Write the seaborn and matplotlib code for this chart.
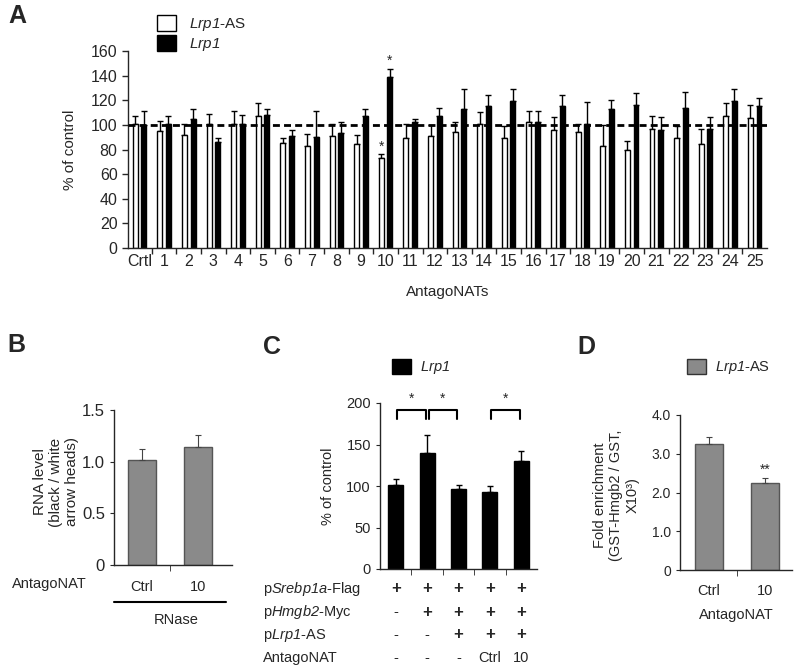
import numpy as np
import pandas as pd
import matplotlib
matplotlib.use("Agg")
import matplotlib.pyplot as plt
import seaborn as sns
from matplotlib.patches import Patch
from matplotlib.transforms import blended_transform_factory

W, H = 800, 672

# ---- panel A: antagoNAT screen ----
antagonats = ["Crtl", "1", "2", "3", "4", "5", "6", "7", "8", "9", "10", "11", "12",
              "13", "14", "15", "16", "17", "18", "19", "20", "21", "22", "23", "24", "25"]
lrp1_as = [101, 95, 92, 101, 101, 107, 85, 83, 91, 84.5, 73, 89, 91,
           94, 101, 89.5, 102, 96, 94, 83, 80, 97, 89, 84.5, 107, 105.5]
lrp1_as_err = [6, 8.5, 9, 8, 10, 10.5, 4.5, 9.5, 10, 7.5, 3, 11.5, 9,
               8.5, 9.5, 9.5, 9, 10.5, 6.5, 17, 7, 10, 10, 12.5, 10.5, 11]
lrp1 = [100, 100.5, 105, 86, 101, 108, 91, 90, 93.5, 107, 138.5, 102.5, 107,
        112.5, 115.5, 119, 102, 115.5, 100.5, 113, 116.5, 96, 114, 96.5, 119.5, 115]
lrp1_err = [11, 6.5, 8, 3, 7, 5, 5, 21.5, 8.5, 5.5, 6.5, 2.5, 7,
            17, 9, 10, 9, 8.5, 18, 7.5, 9, 10, 13, 9.5, 9.5, 7]

# ---- panel B: RNase ----
b_groups = ["Ctrl", "10"]
b_level = [1.02, 1.145]
b_err = [0.105, 0.11]

# ---- panel C: luciferase / Lrp1 ----
c_groups = ["c1", "c2", "c3", "c4", "c5"]
c_vals = [101, 140, 96, 92.5, 130]
c_err = [7, 21, 5, 7.5, 12]
c_row_labels = ["p$\\mathbf{Srebp1a}$-Flag", "p$\\mathbf{Hmgb2}$-Myc", "p$\\mathbf{Lrp1}$-AS", "AntagoNAT"]
c_rows = [["+", "+", "+", "+", "+"],
          ["-", "+", "+", "+", "+"],
          ["-", "-", "+", "+", "+"],
          ["-", "-", "-", "Ctrl", "10"]]
c_pairs = [(0, 1), (1, 2), (3, 4)]

# ---- panel D: pulldown ----
d_groups = ["Ctrl", "10"]
d_vals = [3.24, 2.24]
d_err = [0.18, 0.13]

sns.set_style("ticks")
plt.rcParams["font.family"] = ["Liberation Sans", "DejaVu Sans"]
# italic gene names: mathtext 'it' keeps digits upright, so borrow 'bf' for italics
plt.rcParams["mathtext.fontset"] = "custom"
plt.rcParams["mathtext.rm"] = "Liberation Sans"
plt.rcParams["mathtext.bf"] = "Liberation Sans:italic"
plt.rcParams["axes.linewidth"] = 1.0
plt.rcParams["xtick.major.size"] = 3
plt.rcParams["ytick.major.size"] = 3

GREY = "#8a8a8a"


def fig_xy(x, y):
    return x / W, 1 - y / H


def add_axes_px(fig, left, top, right, bottom):
    return fig.add_axes([left / W, 1 - bottom / H, (right - left) / W, (bottom - top) / H])


def upper_errorbars(ax, container, err, lw=1.0, cap=2.5, color="black"):
    xs = [p.get_x() + p.get_width() / 2 for p in container.patches]
    ys = [p.get_height() for p in container.patches]
    ax.errorbar(xs, ys, yerr=[np.zeros(len(err)), err], fmt="none",
                ecolor=color, elinewidth=lw, capsize=cap, capthick=lw, zorder=1)
    return xs, ys


fig = plt.figure(figsize=(W / 100, H / 100), dpi=100)

# ================= A =================
axA = add_axes_px(fig, 128, 51, 767, 248)
df_a = pd.DataFrame({
    "antagonat": antagonats * 2,
    "value": lrp1_as + lrp1,
    "transcript": ["Lrp1-AS"] * len(antagonats) + ["Lrp1"] * len(antagonats),
})
sns.barplot(data=df_a, x="antagonat", y="value", hue="transcript",
            palette={"Lrp1-AS": "white", "Lrp1": "black"}, edgecolor="black",
            linewidth=1, width=0.7, gap=0.43, errorbar=None, legend=False, ax=axA, zorder=2)
for cont, err in zip(axA.containers, [lrp1_as_err, lrp1_err]):
    for p in cont.patches:
        p.set_zorder(2)
    upper_errorbars(axA, cont, err, lw=1.0, cap=2.2)
axA.axhline(100, color="black", lw=2, ls=(0, (2.5, 1.5)), zorder=3)
axA.set_xlim(-0.47, 25.5)
axA.set_ylim(0, 160)
axA.set_yticks(np.arange(0, 161, 20))
axA.set_xticks(np.arange(len(antagonats)))
axA.set_xticklabels(antagonats, fontsize=11.5)
axA.tick_params(axis="x", which="major", length=0, pad=4)
axA.set_xticks(np.arange(0.5, 25, 1), minor=True)
axA.tick_params(axis="x", which="minor", length=4, width=1)
axA.tick_params(axis="y", labelsize=11.5, length=4, width=1)
axA.set_xlabel("AntagoNATs", fontsize=11, labelpad=12)
axA.set_ylabel("% of control", fontsize=11, labelpad=10)
sns.despine(ax=axA)
# significance stars at antagoNAT 10
i10 = antagonats.index("10")
axA.text(i10 - 0.175, lrp1_as[i10] + lrp1_as_err[i10] + 6, "*", ha="center", va="center", fontsize=10)
axA.text(i10 + 0.175, lrp1[i10] + lrp1_err[i10] + 7, "*", ha="center", va="center", fontsize=10)
handles = [Patch(facecolor="white", edgecolor="black", lw=1),
           Patch(facecolor="black", edgecolor="black", lw=1)]
fig.legend(handles, [r"$\mathbf{Lrp1}$-AS", r"$\mathbf{Lrp1}$"], loc="upper left",
           bbox_to_anchor=fig_xy(157, 15), frameon=False, fontsize=11,
           handlelength=1.25, handleheight=1.2, handletextpad=0.85,
           labelspacing=0.15, borderpad=0, borderaxespad=0)

# ================= B =================
axB = add_axes_px(fig, 114, 410, 232, 565)
sns.barplot(x=b_groups, y=b_level, color=GREY, edgecolor="#555555", linewidth=1,
            width=0.5, errorbar=None, ax=axB)
upper_errorbars(axB, axB.containers[0], b_err, lw=0.8, cap=2, color="#444444")
axB.set_xlim(-0.5, 1.6)
axB.set_ylim(0, 1.5)
axB.set_yticks([0, 0.5, 1.0, 1.5])
axB.set_yticklabels(["0", "0.5", "1.0", "1.5"])
axB.tick_params(axis="y", labelsize=12, length=3)
axB.set_xticks([0, 1])
axB.set_xticklabels(b_groups, fontsize=10.5)
axB.tick_params(axis="x", which="major", length=0, pad=11)
axB.set_xticks([0.5], minor=True)
axB.tick_params(axis="x", which="minor", length=4)
sns.despine(ax=axB)
fig.text(*fig_xy(56, 482), "RNA level\n(black / white\narrow heads)", rotation=90,
         ha="center", va="center", multialignment="center", fontsize=11)
fig.text(*fig_xy(12, 584), "AntagoNAT", ha="left", va="center", fontsize=10.5)
fig.add_artist(plt.Line2D([114 / W, 226 / W], [1 - 602 / H] * 2, color="black", lw=1.5))
fig.text(*fig_xy(176, 620), "RNase", ha="center", va="center", fontsize=10.5)

# ================= C =================
axC = add_axes_px(fig, 380, 403, 537, 569)
sns.barplot(x=c_groups, y=c_vals, color="black", edgecolor="black", linewidth=1,
            width=0.48, errorbar=None, ax=axC)
upper_errorbars(axC, axC.containers[0], c_err, lw=1.0, cap=2.5)
axC.set_xlim(-0.5, 4.5)
axC.set_ylim(0, 200)
axC.set_yticks(np.arange(0, 201, 50))
axC.tick_params(axis="y", labelsize=10.5, length=3)
axC.set_xticks([])
axC.set_xticks(np.arange(0.5, 4, 1), minor=True)
axC.tick_params(axis="x", which="minor", length=4)
axC.set_ylabel("% of control", fontsize=10.5, labelpad=8)
sns.despine(ax=axC)
for a, b in c_pairs:
    x0, x1 = a + 0.05, b - 0.05
    axC.plot([x0, x0, x1, x1], [181, 192, 192, 181], color="black", lw=1.5, clip_on=False)
    axC.text((a + b) / 2, 205, "*", ha="center", va="center", fontsize=10)
trC = blended_transform_factory(axC.transData, fig.transFigure)
row_y = [589, 612, 635, 658]
for label, row, y in zip(c_row_labels, c_rows, row_y):
    fig.text(*fig_xy(263, y), label, ha="left", va="center", fontsize=10.5)
    for i, mark in enumerate(row):
        bold = "bold" if mark == "+" else "normal"
        size = 12 if mark == "+" else 10.5
        axC.text(i, 1 - y / H, mark, transform=trC, ha="center", va="center",
                 fontsize=size, fontweight=bold)
fig.legend([Patch(facecolor="black", edgecolor="black")], [r"$\mathbf{Lrp1}$"], loc="upper left",
           bbox_to_anchor=fig_xy(392, 359), frameon=False, fontsize=10.5,
           handlelength=1.3, handleheight=1.2, handletextpad=0.6, borderpad=0, borderaxespad=0)

# ================= D =================
axD = add_axes_px(fig, 680, 415, 792, 570)
sns.barplot(x=d_groups, y=d_vals, color=GREY, edgecolor="#555555", linewidth=1,
            width=0.5, errorbar=None, ax=axD)
upper_errorbars(axD, axD.containers[0], d_err, lw=0.8, cap=2, color="#444444")
axD.set_xlim(-0.52, 1.48)
axD.set_ylim(0, 4.0)
axD.set_yticks([0, 1, 2, 3, 4])
axD.set_yticklabels(["0", "1.0", "2.0", "3.0", "4.0"])
axD.tick_params(axis="y", labelsize=10, length=3)
axD.set_xticks([0, 1])
axD.set_xticklabels(d_groups, fontsize=10.5)
axD.tick_params(axis="x", which="major", length=0, pad=10)
axD.set_xticks([0.5], minor=True)
axD.tick_params(axis="x", which="minor", length=4)
axD.set_xlabel("AntagoNAT", fontsize=10.5, labelpad=7)
axD.text(1, d_vals[1] + d_err[1] + 0.22, "**", ha="center", va="center", fontsize=10)
sns.despine(ax=axD)
fig.text(*fig_xy(616, 495), "Fold enrichment\n(GST-Hmgb2 / GST,\nX10³)", rotation=90,
         ha="center", va="center", multialignment="center", fontsize=10.5)
fig.legend([Patch(facecolor=GREY, edgecolor="#333333")], [r"$\mathbf{Lrp1}$-AS"], loc="upper left",
           bbox_to_anchor=fig_xy(687, 359), frameon=False, fontsize=10.5,
           handlelength=1.3, handleheight=1.2, handletextpad=0.6, borderpad=0, borderaxespad=0)

# panel letters
for letter, (x, y) in zip("ABCD", [(8, 16), (7, 345), (263, 347), (577, 347)]):
    fig.text(*fig_xy(x, y), letter, ha="left", va="center", fontsize=18, fontweight="bold")

fig.savefig("out.png", dpi=100)
